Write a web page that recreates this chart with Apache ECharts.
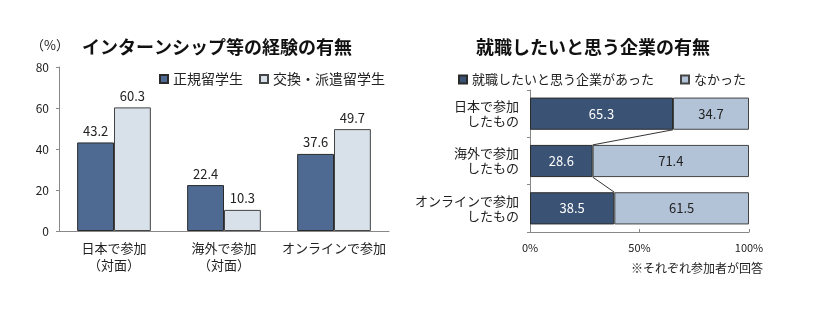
<!DOCTYPE html>
<html><head><meta charset="utf-8">
<script src="https://cdn.jsdelivr.net/npm/echarts@6/dist/echarts.min.js"></script>
<style>html,body{margin:0;padding:0;background:#fff;}#c{width:814px;height:336px;}</style>
</head><body><div id="c"></div>
<script>
// Left chart data
const leftCategories = ['日本で参加\n（対面）', '海外で参加\n（対面）', 'オンラインで参加'];
const regularStudents = [43.2, 22.4, 37.6];
const exchangeStudents = [60.3, 10.3, 49.7];
const leftSeriesNames = ['正規留学生', '交換・派遣留学生'];
const leftYTicks = [0, 20, 40, 60, 80];

// Right chart data
const rightCategories = ['日本で参加\nしたもの', '海外で参加\nしたもの', 'オンラインで参加\nしたもの'];
const hadCompany = [65.3, 28.6, 38.5];
const noCompany = [34.7, 71.4, 61.5];
const rightSeriesNames = ['就職したいと思う企業があった', 'なかった'];
const rightXTicks = [0, 50, 100];

const FONT = '"Noto Sans CJK JP", "Noto Sans", sans-serif';
const chart = echarts.init(document.getElementById('c'));
const GAP = 0.32;

const connectorData = hadCompany.slice(0, -1).map((v, i) => [v, i, hadCompany[i + 1], i + 1]);

chart.setOption({
  backgroundColor: '#fff',
  animation: false,
  textStyle: { fontFamily: FONT, color: '#222' },
  title: [
    { text: 'インターンシップ等の経験の有無', left: 77, top: 33, textStyle: { fontFamily: FONT, fontSize: 18, fontWeight: 'bold', color: '#111' } },
    { text: '就職したいと思う企業の有無', left: 471, top: 33, textStyle: { fontFamily: FONT, fontSize: 18, fontWeight: 'bold', color: '#111' } }
  ],
  graphic: [
    { type: 'text', left: 31, top: 39, style: { text: '（%）', font: '13px ' + FONT, fill: '#222' } },
    { type: 'text', left: 631, top: 262, style: { text: '※それぞれ参加者が回答', font: '12px ' + FONT, fill: '#222' } }
  ],
  legend: [
    { data: leftSeriesNames, left: 154, top: 67, itemWidth: 8, itemHeight: 8, itemGap: 16, icon: 'rect',
      textStyle: { fontFamily: FONT, fontSize: 14, color: '#222' } },
    { data: rightSeriesNames, left: 453, top: 68, itemWidth: 8, itemHeight: 8, itemGap: 26, icon: 'rect',
      textStyle: { fontFamily: FONT, fontSize: 13, color: '#222' } }
  ],
  grid: [
    { left: 59, top: 67, width: 330, height: 164, containLabel: false },
    { left: 530, top: 90, width: 219, height: 142, containLabel: false }
  ],
  xAxis: [
    { gridIndex: 0, type: 'category', data: leftCategories,
      axisLine: { lineStyle: { color: '#888' } },
      axisTick: { inside: true, length: 3, lineStyle: { color: '#888' } },
      axisLabel: { fontFamily: FONT, fontSize: 13, color: '#222', margin: 9, lineHeight: 17, interval: 0 } },
    { gridIndex: 1, type: 'value', min: rightXTicks[0], max: rightXTicks[rightXTicks.length - 1], interval: 50,
      splitLine: { show: false },
      axisLine: { show: true, lineStyle: { color: '#888' } },
      axisTick: { show: true, inside: true, length: 3, lineStyle: { color: '#888' } },
      axisLabel: { fontFamily: FONT, fontSize: 11, color: '#222', margin: 10, formatter: '{value}%' } }
  ],
  yAxis: [
    { gridIndex: 0, type: 'value', min: leftYTicks[0], max: leftYTicks[leftYTicks.length - 1], interval: 20,
      splitLine: { show: false },
      axisLine: { show: true, lineStyle: { color: '#888' } },
      axisTick: { show: true, length: 3, lineStyle: { color: '#888' } },
      axisLabel: { fontFamily: FONT, fontSize: 12, color: '#222', margin: 10 } },
    { gridIndex: 1, type: 'category', data: rightCategories, inverse: true,
      axisLine: { show: true, lineStyle: { color: '#888' } },
      axisTick: { show: true, length: 3, lineStyle: { color: '#888' } },
      axisLabel: { fontFamily: FONT, fontSize: 13, color: '#222', margin: 11, lineHeight: 15, align: 'right' } }
  ],
  series: [
    { name: leftSeriesNames[0], type: 'bar', xAxisIndex: 0, yAxisIndex: 0, data: regularStudents,
      barGap: '0%', barCategoryGap: '33%',
      itemStyle: { color: '#4e6a92', borderColor: '#2a2a2a', borderWidth: 1 },
      label: { show: true, position: 'top', distance: 5, fontFamily: FONT, fontSize: 13, color: '#222' } },
    { name: leftSeriesNames[1], type: 'bar', xAxisIndex: 0, yAxisIndex: 0, data: exchangeStudents,
      barGap: '0%', barCategoryGap: '33%',
      itemStyle: { color: '#d8e0ea', borderColor: '#444', borderWidth: 1 },
      label: { show: true, position: 'top', distance: 5, fontFamily: FONT, fontSize: 13, color: '#222' } },
    { name: rightSeriesNames[0], type: 'bar', xAxisIndex: 1, yAxisIndex: 1, data: hadCompany, stack: 'r',
      barCategoryGap: (GAP * 100) + '%',
      itemStyle: { color: '#3a5274', borderColor: '#2a2a2a', borderWidth: 1 },
      label: { show: true, position: 'inside', fontFamily: FONT, fontSize: 13, color: '#fff' } },
    { name: rightSeriesNames[1], type: 'bar', xAxisIndex: 1, yAxisIndex: 1, data: noCompany, stack: 'r',
      barCategoryGap: (GAP * 100) + '%',
      itemStyle: { color: '#b3c3d7', borderColor: '#444', borderWidth: 1 },
      label: { show: true, position: 'inside', fontFamily: FONT, fontSize: 13, color: '#222' } },
    { type: 'custom', xAxisIndex: 1, yAxisIndex: 1, data: connectorData, silent: true, z: 5,
      encode: { x: [0, 2], y: [1, 3] },
      renderItem: function (params, api) {
        const p1 = api.coord([api.value(0), api.value(1)]);
        const p2 = api.coord([api.value(2), api.value(3)]);
        const band = api.size([0, 1])[1];
        const h = band * (1 - GAP) / 2;
        return { type: 'line', shape: { x1: p1[0], y1: p1[1] + h, x2: p2[0], y2: p2[1] - h },
          style: { stroke: '#333', lineWidth: 1 } };
      } }
  ]
});
</script></body></html>
